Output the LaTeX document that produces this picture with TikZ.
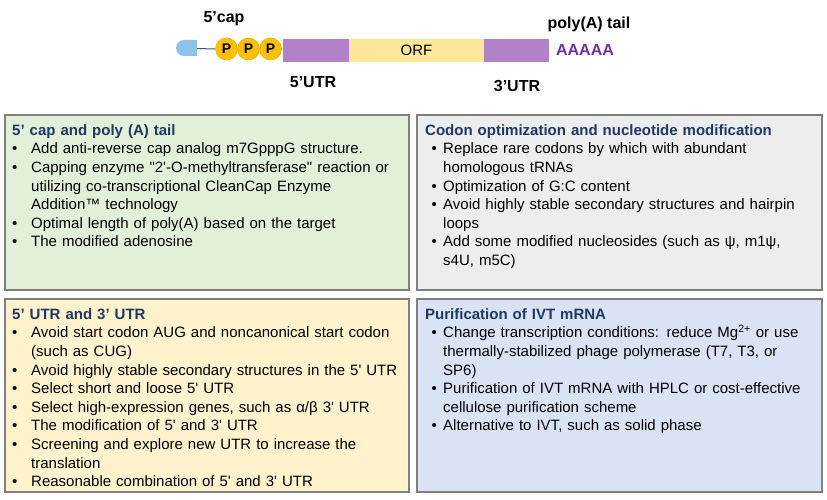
\documentclass[tikz,border=0pt]{standalone}
\usepackage{fontspec}
\setmainfont{Liberation Sans}
\setlength\parindent{0pt}
\definecolor{capblue}{HTML}{8DC3E8}
\definecolor{linkblue}{HTML}{2E5C8A}
\definecolor{pyellow}{HTML}{FFC000}
\definecolor{pedge}{HTML}{EDB000}
\definecolor{utrpurple}{HTML}{B381C9}
\definecolor{orfyellow}{HTML}{FFE699}
\definecolor{apurple}{HTML}{7030A0}
\definecolor{greenfill}{HTML}{E2F0D9}
\definecolor{grayfill}{HTML}{EDEDED}
\definecolor{yellowfill}{HTML}{FFF2CC}
\definecolor{bluefill}{HTML}{DAE3F3}
\definecolor{boxedge}{HTML}{7F7F7F}
\definecolor{titleblue}{HTML}{1F3864}
\newlength\hangw
\newlength\bshift
\newcommand\bitem[1]{\par\hangindent=\hangw\hangafter=1\noindent\hbox to\hangw{\hskip\bshift\textbullet\hfil}#1\par}
\newcommand\btitle[1]{\noindent\rule{0pt}{11pt}{\bfseries\color{titleblue}#1}\par}
\begin{document}
\begin{tikzpicture}[x=1pt,y=-1pt,
  label/.style={font=\fontsize{16}{18}\selectfont\bfseries, inner sep=0},
  pcirc/.style={circle, fill=pyellow, draw=pedge, line width=0.6pt, minimum size=22pt, inner sep=0, font=\fontsize{14}{16}\selectfont\bfseries},
  seg/.style={rectangle, inner sep=0, minimum height=23pt},
  box/.style={rectangle, draw=boxedge, line width=1.1pt, inner sep=0, outer sep=0},
  txt/.style={anchor=north west, inner sep=0, text width=398pt, align=left, font=\fontsize{15}{18.6}\selectfont}
]
\useasboundingbox[fill=white] (0,0) rectangle (827,500);

% mRNA schematic
\fill[capblue] (197,40) -- (184,40) arc[start angle=270, end angle=90, radius=8] -- (197,56) -- cycle;
\coordinate (capR) at (197,48.5);
\node[pcirc] (p1) at (226.5,49) {P};
\draw[linkblue, line width=1pt] (capR) -- (p1.west);
\node[pcirc] (p2) at (248.5,49) {P};
\node[pcirc] (p3) at (270.5,49) {P};
\node[seg, fill=utrpurple, minimum width=66pt] (u5) at (316,50.5) {};
\node[seg, fill=orfyellow, minimum width=135pt, font=\fontsize{15}{16}\selectfont] (orf) at (416.5,50.5) {ORF};
\node[seg, fill=utrpurple, minimum width=65pt] (u3) at (516.5,50.5) {};
\node[label, text=apurple] (polyA) at (585,50) {AAAAA};
\node[label] (capl) at (224,19) {5’cap};
\node[label] (taill) at (589,24) {poly(A) tail};
\node[label] (u5l) at (313,82) {5’UTR};
\node[label] (u3l) at (517,86) {3’UTR};

% boxes
\node[box, fill=greenfill, minimum width=404pt, minimum height=175pt] (b1) at (207,202.5) {};
\node[box, fill=grayfill, minimum width=405pt, minimum height=175pt] (b2) at (619.5,202.5) {};
\node[box, fill=yellowfill, minimum width=404pt, minimum height=193pt] (b3) at (207,395.5) {};
\node[box, fill=bluefill, minimum width=405pt, minimum height=193pt] (b4) at (619.5,395.5) {};

\node[txt, xshift=7pt, yshift=-9pt] (t1) at (b1.north west) {\setlength\hangw{19pt}\setlength\bshift{0pt}%
\btitle{5’ cap and poly (A) tail}
\bitem{Add anti-reverse cap analog m7GpppG structure.}
\bitem{Capping enzyme \textquotedbl 2\textquotesingle-O-methyltransferase\textquotedbl{} reaction or\newline utilizing co-transcriptional CleanCap Enzyme\newline Addition™ technology}
\bitem{Optimal length of poly(A) based on the target}
\bitem{The modified adenosine}};

\node[txt, xshift=8pt, yshift=-9pt] (t2) at (b2.north west) {\setlength\hangw{18pt}\setlength\bshift{6.5pt}%
\btitle{Codon optimization and nucleotide modification}
\bitem{Replace rare codons by which with abundant\newline homologous tRNAs}
\bitem{Optimization of G:C content}
\bitem{Avoid highly stable secondary structures and hairpin\newline loops}
\bitem{Add some modified nucleosides (such as ψ, m1ψ,\newline s4U, m5C)}};

\node[txt, xshift=7pt, yshift=-9pt] (t3) at (b3.north west) {\setlength\hangw{19pt}\setlength\bshift{0pt}%
\btitle{5’ UTR and 3’ UTR}
\bitem{Avoid start codon AUG and noncanonical start codon\newline (such as CUG)}
\bitem{Avoid highly stable secondary structures in the 5\textquotesingle{} UTR}
\bitem{Select short and loose 5\textquotesingle{} UTR}
\bitem{Select high-expression genes, such as α/β 3\textquotesingle{} UTR}
\bitem{The modification of 5\textquotesingle{} and 3\textquotesingle{} UTR}
\bitem{Screening and explore new UTR to increase the\newline translation}
\bitem{Reasonable combination of 5\textquotesingle{} and 3\textquotesingle{} UTR}};

\node[txt, xshift=8pt, yshift=-9pt] (t4) at (b4.north west) {\setlength\hangw{18pt}\setlength\bshift{6.5pt}%
\btitle{Purification of IVT mRNA}
\bitem{Change transcription conditions: reduce Mg\textsuperscript{2+} or use\newline thermally-stabilized phage polymerase (T7, T3, or\newline SP6)}
\bitem{Purification of IVT mRNA with HPLC or cost-effective\newline cellulose purification scheme}
\bitem{Alternative to IVT, such as solid phase}};
\end{tikzpicture}
\end{document}
